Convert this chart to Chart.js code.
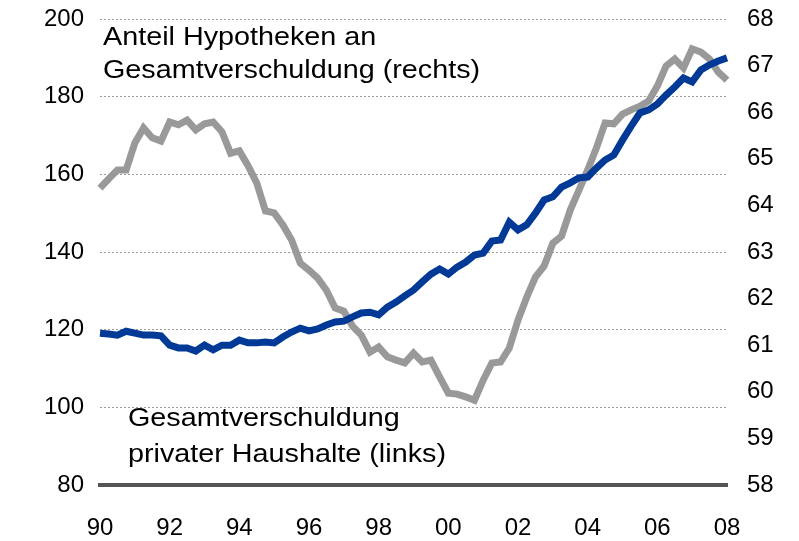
<!DOCTYPE html>
<html>
<head>
<meta charset="utf-8">
<script src="https://cdn.jsdelivr.net/npm/chart.js@4/dist/chart.umd.min.js"></script>
<style>
  body { margin: 0; background: #fff; }
  #wrap { width: 799px; height: 541px; position: relative; }
</style>
</head>
<body>
<div id="wrap"><canvas id="debtChart"></canvas></div>
<script>
// quarterly, 1990Q1 .. 2008Q1
let years = ['90','91','92','93','94','95','96','97','98','99','00','01','02','03','04','05','06','07','08'];
let quarters = [];
years.forEach(function (y) {
    ['Q1','Q2','Q3','Q4'].forEach(function (q) {
        if (y === '08' && q !== 'Q1') return;
        quarters.push(y + q);
    });
});
let yearLabels = ['90','92','94','96','98','00','02','04','06','08'];

// Gesamtverschuldung privater Haushalte (links)
let totalDebt = [
    119.1, 118.9, 118.6, 119.6,
    119.1, 118.6, 118.6, 118.4,
    116.0, 115.3, 115.3, 114.5,
    116.0, 114.8, 116.0, 116.0,
    117.3, 116.6, 116.6, 116.8,
    116.6, 118.1, 119.4, 120.4,
    119.7, 120.2, 121.2, 122.0,
    122.2, 123.3, 124.3, 124.5,
    123.8, 125.8, 127.1, 128.7,
    130.2, 132.3, 134.3, 135.6,
    134.3, 136.1, 137.4, 139.2,
    139.7, 142.8, 143.1, 147.7,
    145.7, 147.0, 150.0, 153.4,
    154.2, 156.7, 157.8, 159.1,
    159.3, 161.6, 163.7, 165.0,
    168.8, 172.4, 175.8, 176.6,
    178.1, 180.4, 182.5, 184.8,
    183.8, 186.9, 188.2, 189.2,
    190.0
];

// Anteil Hypotheken an Gesamtverschuldung (rechts)
let mortgageShare = [
    64.37, 64.57, 64.76, 64.76,
    65.34, 65.66, 65.45, 65.38,
    65.79, 65.73, 65.83, 65.62,
    65.75, 65.79, 65.58, 65.12,
    65.17, 64.85, 64.48, 63.88,
    63.84, 63.58, 63.26, 62.76,
    62.61, 62.44, 62.18, 61.80,
    61.73, 61.41, 61.22, 60.85,
    60.96, 60.75, 60.68, 60.62,
    60.83, 60.64, 60.68, 60.32,
    59.97, 59.95, 59.89, 59.82,
    60.25, 60.62, 60.64, 60.94,
    61.54, 62.03, 62.46, 62.70,
    63.19, 63.34, 63.90, 64.33,
    64.76, 65.23, 65.77, 65.75,
    65.96, 66.05, 66.13, 66.24,
    66.56, 66.99, 67.14, 66.95,
    67.36, 67.29, 67.14, 66.86,
    66.69
];

let font = { family: 'Liberation Sans, Arial, sans-serif', size: 24 };

// the captions in the original are set a bit wider than plain Arial
function wideText(c, txt, x, y) {
    c.save();
    c.translate(x, y);
    c.scale(1.15, 1);
    c.fillText(txt, 0, 0);
    c.restore();
}

let notes = {
    id: 'notes',
    afterDraw: function (chart) {
        let c = chart.ctx;
        c.save();
        c.fillStyle = '#000';
        c.font = '25px Liberation Sans, Arial, sans-serif';
        c.textBaseline = 'middle';
        wideText(c, 'Anteil Hypotheken an', 103, 38);
        wideText(c, 'Gesamtverschuldung (rechts)', 103, 71);
        wideText(c, 'Gesamtverschuldung', 128, 419);
        wideText(c, 'privater Haushalte (links)', 128, 455);
        c.restore();
    }
};

// let the top of the plot sit at a fixed offset instead of the label overflow
function noVPad(s) {
    s.paddingTop = 0;
    s.paddingBottom = 0;
}

let ctx = document.getElementById('debtChart').getContext('2d');
let debtChart = new Chart(ctx, {
    type: 'line',
    data: {
        labels: quarters,
        datasets: [{
            label: 'Gesamtverschuldung privater Haushalte (links)',
            data: totalDebt,
            yAxisID: 'y',
            borderColor: '#003a96',
            borderWidth: 7,
            pointRadius: 0,
            tension: 0,
            fill: false
        }, {
            label: 'Anteil Hypotheken an Gesamtverschuldung (rechts)',
            data: mortgageShare,
            yAxisID: 'y1',
            borderColor: '#999999',
            borderWidth: 7,
            pointRadius: 0,
            tension: 0,
            fill: false
        }]
    },
    options: {
        responsive: true,
        maintainAspectRatio: false,
        animation: false,
        layout: { padding: { top: 19, bottom: 4 } },
        plugins: {
            legend: { display: false },
            tooltip: { enabled: false }
        },
        scales: {
            x: {
                grid: { display: false },
                border: { display: true, color: '#555555', width: 4 },
                ticks: {
                    autoSkip: false,
                    maxRotation: 0,
                    padding: 21,
                    color: '#000',
                    font: font,
                    callback: function (v, i) {
                        let q = quarters[i];
                        let y = q.slice(0, 2);
                        return (q.slice(2) === 'Q1' && yearLabels.indexOf(y) >= 0) ? y : '';
                    }
                },
                afterFit: function (s) { s.height = 52; }
            },
            y: {
                position: 'left',
                min: 80,
                max: 200,
                ticks: { stepSize: 20, padding: 16, color: '#000', font: font },
                grid: {
                    drawTicks: false,
                    lineWidth: 1,
                    color: function (c) { return c.tick && c.tick.value === 80 ? 'rgba(0,0,0,0)' : '#9a9a9a'; }
                },
                border: { display: false, dash: [2, 2] },
                afterFit: function (s) { s.width = 100; noVPad(s); }
            },
            y1: {
                position: 'right',
                min: 58,
                max: 68,
                ticks: { stepSize: 1, padding: 12, color: '#000', font: font },
                grid: { display: false },
                border: { display: false },
                afterFit: function (s) { s.width = 72; noVPad(s); }
            }
        }
    },
    plugins: [notes]
});
</script>
</body>
</html>
